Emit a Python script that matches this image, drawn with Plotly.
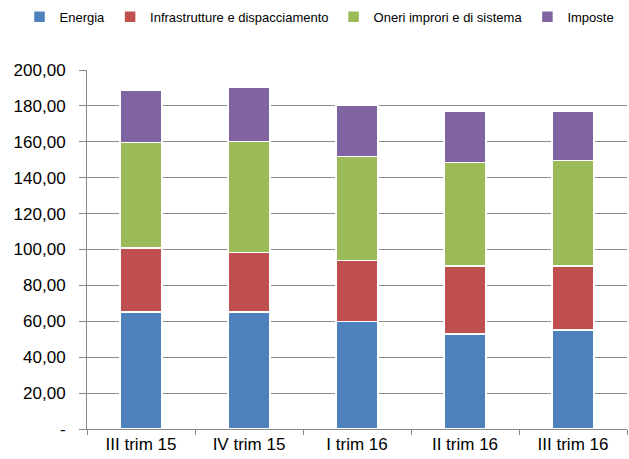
import plotly.graph_objects as go

categories = ["III trim 15", "IV trim 15", "I trim 16", "II trim 16", "III trim 16"]
energia = [65.3, 65.3, 59.8, 52.9, 55.2]
infrastrutture = [35.4, 32.9, 34.1, 37.9, 35.6]
oneri = [58.8, 61.9, 57.8, 57.8, 58.7]
imposte = [29.0, 30.2, 28.8, 28.6, 27.7]

series_names = ["Energia", "Infrastrutture e dispacciamento", "Oneri improri e di sistema", "Imposte"]
colors = ["#4F81BD", "#C0504D", "#9BBB59", "#8064A2"]

tick_vals = [0, 20, 40, 60, 80, 100, 120, 140, 160, 180, 200]
tick_text = ["-"] + [f"{v},00" for v in tick_vals[1:]]

fig = go.Figure()
for name, vals, col in zip(series_names, [energia, infrastrutture, oneri, imposte], colors):
    fig.add_trace(go.Bar(
        x=categories, y=vals, name=name,
        marker=dict(color=col, line=dict(color="white", width=1.5)),
        width=0.39,
    ))

fig.update_layout(
    barmode="stack",
    width=629, height=459,
    margin=dict(l=87, r=2, t=70, b=30, autoexpand=False),
    paper_bgcolor="white", plot_bgcolor="white",
    font=dict(family="Liberation Sans, Arial, sans-serif", color="#000000"),
    legend=dict(orientation="h", x=-0.125, xanchor="left",
                y=1.19, yanchor="top",
                font=dict(size=13), itemwidth=30,
                traceorder="normal", tracegroupgap=0),
    xaxis=dict(showgrid=False, showline=True, linecolor="#888888", linewidth=1,
               ticks="outside", tickson="boundaries", ticklen=5, tickcolor="#888888",
               tickfont=dict(size=17)),
    yaxis=dict(range=[0, 200], tickvals=tick_vals, ticktext=tick_text,
               showgrid=True, gridcolor="#8c8c8c", gridwidth=1,
               showline=True, linecolor="#888888", linewidth=1,
               ticks="outside", ticklen=7, tickcolor="#888888",
               ticklabelstandoff=10,
               tickfont=dict(size=17), zeroline=False),
    showlegend=True,
)

fig.write_html("out.html")
